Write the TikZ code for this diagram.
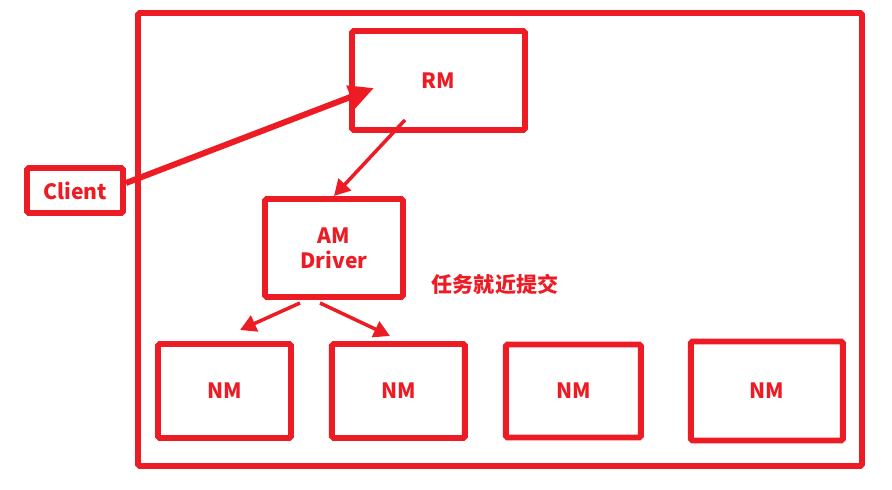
\documentclass[tikz,border=0pt]{standalone}
\usepackage{fontspec}
\newfontfamily\cjk{Noto Sans CJK SC}
\usetikzlibrary{positioning,arrows.meta}
\definecolor{hred}{RGB}{237,28,36}

\begin{document}
\begin{tikzpicture}[node distance=0.7cm,
			box/.style={rectangle, draw=hred, line width=3.4pt, rounded corners=1pt, align=center, text=hred, font=\cjk\bfseries\fontsize{12}{14}\selectfont},
			arrow/.style={-{Triangle[length=0.32cm,width=0.34cm]}, line width=2pt, hred},
			bigarrow/.style={-{Triangle[length=0.5cm,width=0.46cm]}, line width=3.4pt, hred}]

			\useasboundingbox (0,0) rectangle (17.84,9.78);

			\node[box, minimum width=14.48cm, minimum height=9.06cm] (frame) at (10.0,4.99) {};
			\node[box, minimum width=3.46cm, minimum height=1.98cm] (rm) at (8.77,8.17) {RM};
			\node[box, minimum width=1.92cm, minimum height=0.9cm] (client) at (1.5,5.97) {Client};
			\node[box, minimum width=2.76cm, minimum height=1.96cm] (am) at (6.68,4.82) {AM\\Driver};
			\node[box, minimum width=2.66cm, minimum height=1.88cm] (nm1) at (4.49,1.96) {NM};
			\node[box, minimum width=2.66cm, minimum height=1.88cm, right=of nm1] (nm2) {NM};
			\node[box, minimum width=2.7cm, minimum height=1.86cm, right=of nm2] (nm3) {NM};
			\node[box, minimum width=3.04cm, minimum height=1.98cm, right=0.88cm of nm3] (nm4) {NM};
			\node[text=hred, font=\cjk\bfseries\fontsize{12}{14}\selectfont] (tip) at (9.9,4.1) {任务就近提交};

			\draw[bigarrow] ([yshift=0.15cm]client.east) -- ([xshift=0.5cm,yshift=-0.15cm]rm.west);
			\draw[arrow] ([xshift=-0.67cm,yshift=0.26cm]rm.south) -- (am.north);
			\draw[arrow] ([xshift=-0.68cm,yshift=-0.06cm]am.south) -- ([xshift=0.31cm,yshift=0.22cm]nm1.north);
			\draw[arrow] ([xshift=-0.28cm,yshift=-0.06cm]am.south) -- ([xshift=-0.17cm,yshift=0.1cm]nm2.north);
		\end{tikzpicture}
\end{document}
